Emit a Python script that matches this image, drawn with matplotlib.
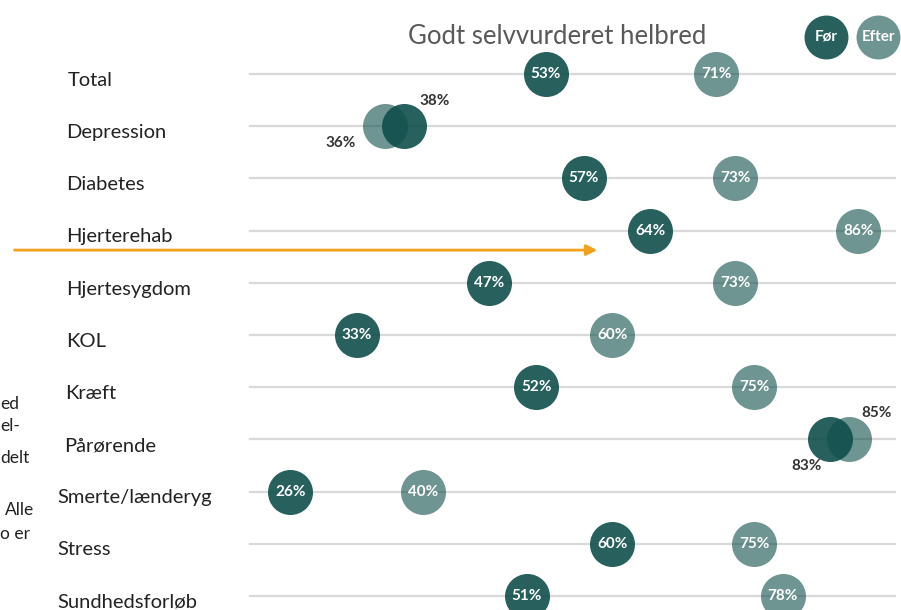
'''
Dumbbell chart: share with good self-rated health before and after, per course.
'''

# Imports

import matplotlib.pyplot as plt
from matplotlib.transforms import blended_transform_factory

# Constants

categories = ["Total", "Depression", "Diabetes", "Hjerterehab", "Hjertesygdom", "KOL",
              "Kræft", "Pårørende", "Smerte/lænderyg", "Stress", "Sundhedsforløb"]
foer = [53, 38, 57, 64, 47, 33, 52, 83, 26, 60, 51]
efter = [71, 36, 73, 86, 73, 60, 75, 85, 40, 75, 78]

title = "Godt selvvurderet helbred"
legend_labels = ["Før", "Efter"]
side_text = ["ed", "el-", "delt", "Alle", "o er"]

BASE_COLOR = "#0f4f4b"
FOER_ALPHA = 0.9
EFTER_ALPHA = 0.6
GRID_COLOR = "#d9d9d9"
ARROW_COLOR = "#f2a11f"

# left edge of each category label (axes fraction); the lower labels sit a bit further left
label_x = [0.075, 0.073, 0.073, 0.073, 0.073, 0.073, 0.072, 0.071, 0.064, 0.064, 0.064]

# label offsets (points) for the rows where the dots overlap: (high value, low value)
overlap_offsets = {
    "Depression": ((22, 18), (-32, -12)),
    "Pårørende": ((20, 19), (-17, -19)),
}

plt.rcParams['font.family'] = ['Lato', 'DejaVu Sans']

# Figure

fig = plt.figure(figsize=(9.01, 6.10), dpi=100)
ax = fig.add_axes([0, 0, 1, 1])
ax.set_xlim(-4.65, 90.5)
ax.set_ylim(10.27, -1.418)
ax.axis("off")

rows = list(range(len(categories)))

# Grid lines per row
for r in rows:
    ax.axhline(r, xmin=0.277, xmax=0.993, color=GRID_COLOR, lw=1.6, zorder=1)

# Category labels
lab_tr = blended_transform_factory(ax.transAxes, ax.transData)
for r, cat, lx in zip(rows, categories, label_x):
    ax.text(lx, r + 0.12, cat, transform=lab_tr, ha="left", va="center",
            fontsize=14.5, color="#222222")

# Dots
ax.scatter(foer, rows, s=1050, color=BASE_COLOR, alpha=FOER_ALPHA, zorder=3, lw=0)
ax.scatter(efter, rows, s=1050, color=BASE_COLOR, alpha=EFTER_ALPHA, zorder=4, lw=0)

for r, cat, a, b in zip(rows, categories, foer, efter):
    if cat in overlap_offsets:
        # labels placed outside the overlapping pair
        hi, lo = (a, b) if a > b else (b, a)
        off_hi, off_lo = overlap_offsets[cat]
        ax.annotate(f"{hi}%", (hi, r), xytext=off_hi, textcoords="offset points",
                    ha="center", va="center", fontsize=11, fontweight="bold",
                    color="#333333")
        ax.annotate(f"{lo}%", (lo, r), xytext=off_lo, textcoords="offset points",
                    ha="center", va="center", fontsize=11, fontweight="bold",
                    color="#333333")
    else:
        ax.text(a, r, f"{a}%", ha="center", va="center", fontsize=11,
                fontweight="bold", color="white", zorder=5)
        ax.text(b, r, f"{b}%", ha="center", va="center", fontsize=11,
                fontweight="bold", color="white", zorder=5)

# Title
ax.text(0.618, 0.94, title, transform=ax.transAxes, ha="center", va="center",
        fontsize=18.5, color="#595959")

# Legend bubbles
for xf, lab, al in zip([0.917, 0.975], legend_labels, [FOER_ALPHA, EFTER_ALPHA]):
    ax.scatter([xf], [0.94], s=1000, color=BASE_COLOR, alpha=al, transform=ax.transAxes,
               zorder=3, lw=0, clip_on=False)
    ax.text(xf, 0.94, lab, transform=ax.transAxes, ha="center", va="center",
            fontsize=11, fontweight="bold", color="white", zorder=5)

# Orange arrow
ax.annotate("", xy=(0.666, 0.590), xytext=(0.013, 0.590), xycoords="figure fraction",
            textcoords="figure fraction",
            arrowprops=dict(arrowstyle="-|>", color=ARROW_COLOR, lw=2,
                            mutation_scale=16))

# Clipped side text at the left edge
for yf, frag in zip([0.338, 0.302, 0.249, 0.164, 0.125], side_text):
    xf = 0.005 if frag == "Alle" else 0.0
    ax.text(xf, yf, frag, transform=ax.transAxes, ha="left", va="center",
            fontsize=12.5, color="#222222")

fig.savefig("out.png", dpi=100)
